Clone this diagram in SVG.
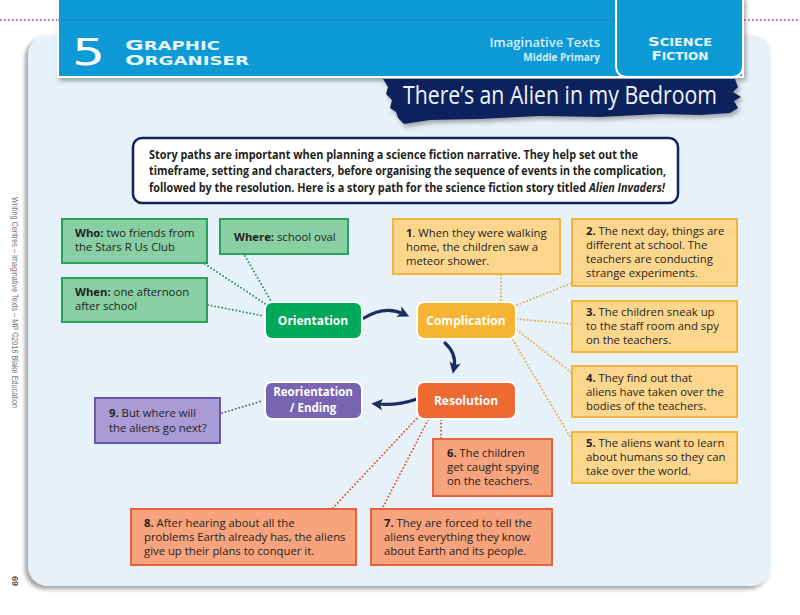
<svg xmlns="http://www.w3.org/2000/svg" width="800" height="615" viewBox="0 0 800 615">
<defs>
<filter id="sh" x="-10%" y="-10%" width="120%" height="120%">
<feDropShadow dx="-3" dy="3" stdDeviation="2" flood-color="#7a7a7a" flood-opacity="0.7"/>
</filter>
<filter id="sh2" x="-10%" y="-20%" width="120%" height="150%">
<feDropShadow dx="2" dy="3" stdDeviation="2" flood-color="#555" flood-opacity="0.5"/>
</filter>
<marker id="ah" viewBox="0 0 10 10" refX="5" refY="5" markerWidth="3.6" markerHeight="3.6" orient="auto" markerUnits="strokeWidth">
<path d="M0,0 L10,5 L0,10 L2.5,5 Z" fill="#1c2d63"/>
</marker>
<style>
.t{font-family:"Open Sans","Noto Sans","DejaVu Sans",sans-serif;font-size:11.3px;fill:#231f20}
.b{font-weight:700}
.intro{font-family:"Open Sans","Noto Sans",sans-serif;font-size:11.5px;font-weight:700;fill:#231f20}
.nd{font-family:"Open Sans","Noto Sans",sans-serif;font-size:12px;font-weight:700;fill:#fff;text-anchor:middle}
.nd2{font-family:"Open Sans","Noto Sans",sans-serif;font-size:11.5px;font-weight:700;fill:#fff;text-anchor:middle}
.gbox{fill:#88d0a3;stroke:#27a35b;stroke-width:2}
.ybox{fill:#fdd68e;stroke:#f2b43c;stroke-width:2}
.obox{fill:#f7a37d;stroke:#e6623a;stroke-width:2}
.pbox{fill:#a99cd6;stroke:#6a57a9;stroke-width:2}
.node{stroke:#fff;stroke-width:2}
.dot{fill:none;stroke-width:2;stroke-linecap:round;stroke-dasharray:0 3.6}
.gd{stroke:#2a9a55}
.yd{stroke:#e3ad45}
.od{stroke:#d45a35}
.pd{stroke:#6a57a9}
.arr{fill:none;stroke:#1c2d63;stroke-width:3.2;stroke-linecap:round;marker-end:url(#ah)}
.hd{font-family:"DejaVu Sans",sans-serif;font-weight:700;fill:#e8f6fd}
</style>
</defs>
<rect width="800" height="615" fill="#ffffff"/>
<!-- main panel -->
<rect x="28" y="35" width="743" height="551" rx="20" fill="#e7f1fa" filter="url(#sh)"/>
<!-- dotted line -->
<line x1="0" y1="20" x2="800" y2="20" stroke="#b2379b" stroke-width="1.6" stroke-dasharray="1.6 2.4"/>
<!-- header -->
<g id="header">
<rect x="58" y="-3" width="685" height="80" fill="#0c9ad6" stroke="#fff" stroke-width="2" filter="url(#sh2)"/>
<line x1="58" y1="20" x2="743" y2="20" stroke="#3f5ea8" stroke-width="1.4" stroke-dasharray="1.6 2.4" opacity="0.7"/>
<path d="M616,-3 H743 V65 Q743,77 731,77 H628 Q616,77 616,65 Z" fill="#0c9ad6" stroke="#fff" stroke-width="2"/>
<text x="72" y="65" font-family="DejaVu Sans, sans-serif" font-size="38" fill="#fff" textLength="33" lengthAdjust="spacingAndGlyphs">5</text>
<text x="125" y="49.5" class="hd" font-size="11.5" textLength="95" lengthAdjust="spacingAndGlyphs"><tspan font-size="14.5">G</tspan>RAPHIC</text>
<text x="125" y="65" class="hd" font-size="11.5" textLength="124" lengthAdjust="spacingAndGlyphs"><tspan font-size="14.5">O</tspan>RGANISER</text>
<text x="600" y="47" text-anchor="end" font-family="Open Sans, Noto Sans, sans-serif" font-size="13" font-weight="600" fill="#d9eef9">Imaginative Texts</text>
<text x="600" y="61" text-anchor="end" font-family="Open Sans, Noto Sans, sans-serif" font-size="10" font-weight="700" fill="#d9eef9">Middle Primary</text>
<text x="680" y="46" text-anchor="middle" class="hd" font-size="10" textLength="64" lengthAdjust="spacingAndGlyphs"><tspan font-size="12.5">S</tspan>CIENCE</text>
<text x="680" y="60" text-anchor="middle" class="hd" font-size="10" textLength="57" lengthAdjust="spacingAndGlyphs"><tspan font-size="12.5">F</tspan>ICTION</text>
</g>
<!-- banner -->
<g id="banner">
<path d="M383,79 L735,79 L738,87 L733,92 L741,97 L734,101 L738,108 L730,113 L700,115 L660,114 L600,117 L540,116 L480,119 L430,120 L404,124 L398,118 L396,112 L390,108 L392,100 L386,94 L388,87 Z" fill="#10205c" filter="url(#sh2)"/>
<text x="403" y="104" font-family="Open Sans, Noto Sans, sans-serif" font-size="25" fill="#eef4ff" textLength="314" lengthAdjust="spacingAndGlyphs">There’s an Alien in my Bedroom</text>
</g>
<!-- side text -->
<text transform="translate(12,197) rotate(90)" font-family="Liberation Sans, Arial, sans-serif" font-size="8.5" fill="#777" textLength="211" lengthAdjust="spacingAndGlyphs">Writing Centres – Imaginative Texts – MP ©2016 Blake Education</text>
<text transform="translate(12,576) rotate(90)" font-family="Liberation Sans, Arial, sans-serif" font-size="9" font-weight="700" fill="#555">69</text>
<!-- intro -->
<g id="intro">
<rect x="133" y="138" width="545" height="65" rx="9" fill="#fff" stroke="#13235e" stroke-width="2.5"/>
<text class="intro" x="149" y="158.5" textLength="489" lengthAdjust="spacingAndGlyphs">Story paths are important when planning a science fiction narrative. They help set out the</text>
<text class="intro" x="149" y="174.5" textLength="517" lengthAdjust="spacingAndGlyphs">timeframe, setting and characters, before organising the sequence of events in the complication,</text>
<text class="intro" transform="translate(149,191.5) scale(0.945,1)">followed by the resolution. Here is a story path for the science fiction story titled <tspan font-style="italic">Alien Invaders!</tspan></text>
</g>
<!-- connectors -->
<g id="connectors">
<path class="dot gd" d="M205,264 L267,305"/>
<path class="dot gd" d="M245,256 L271,301"/>
<path class="dot gd" d="M208,305 L264,316"/>
<path class="dot pd" d="M222,413 L262,401"/>
<path class="dot yd" d="M501,275 L501,301"/>
<path class="dot yd" d="M517,305 L572,283"/>
<path class="dot yd" d="M517,319 L572,324"/>
<path class="dot yd" d="M517,330 L572,373"/>
<path class="dot yd" d="M513,340 L572,440"/>
<path class="dot od" d="M441,420 L441,439"/>
<path class="dot od" d="M428,420 L382,509"/>
<path class="dot od" d="M419,416 L332,509"/>
<path class="arr" d="M364,318 Q385,305 404,314"/>
<path class="arr" d="M445,343 Q457,354 454,368"/>
<path class="arr" d="M417,399 Q397,406 377,404"/>
</g>
<!-- green boxes -->
<g id="who"><rect class="gbox" x="62" y="219" width="145" height="44"/>
<text class="t" x="75" y="237"><tspan class="b">Who:</tspan> two friends from</text>
<text class="t" x="75" y="251">the Stars R Us Club</text></g>
<g id="where"><rect class="gbox" x="220" y="219" width="128" height="35"/>
<text class="t" x="234" y="241"><tspan class="b">Where:</tspan> school oval</text></g>
<g id="when"><rect class="gbox" x="62" y="278" width="145" height="44"/>
<text class="t" x="75" y="296"><tspan class="b">When:</tspan> one afternoon</text>
<text class="t" x="75" y="310">after school</text></g>
<!-- main nodes -->
<g id="orientation"><rect class="node" x="265" y="302" width="97" height="37" rx="7" fill="#00a85a"/>
<text class="nd" x="313" y="325">Orientation</text></g>
<g id="complication"><rect class="node" x="417" y="302" width="99" height="37" rx="7" fill="#f5b532"/>
<text class="nd" x="466" y="325">Complication</text></g>
<g id="resolution"><rect class="node" x="417" y="382" width="99" height="37" rx="7" fill="#ef6a33"/>
<text class="nd" x="466" y="405">Resolution</text></g>
<g id="reorientation"><rect class="node" x="265" y="382" width="97" height="37" rx="7" fill="#7765b1"/>
<text class="nd2" x="313" y="395.5">Reorientation</text>
<text class="nd2" x="313" y="412">/ Ending</text></g>
<!-- purple box -->
<g id="box9"><rect class="pbox" x="95" y="398" width="125" height="45"/>
<text class="t" x="109" y="417"><tspan class="b">9.</tspan> But where will</text>
<text class="t" x="109" y="432">the aliens go next?</text></g>
<!-- yellow boxes -->
<g id="box1"><rect class="ybox" x="393" y="219" width="167" height="55"/>
<text class="t" x="406" y="237"><tspan class="b">1</tspan>. When they were walking</text>
<text class="t" x="406" y="251">home, the children saw a</text>
<text class="t" x="406" y="265">meteor shower.</text></g>
<g id="box2"><rect class="ybox" x="572" y="219" width="165" height="67"/>
<text class="t" x="586" y="235"><tspan class="b">2.</tspan> The next day, things are</text>
<text class="t" x="586" y="249">different at school. The</text>
<text class="t" x="586" y="263">teachers are conducting</text>
<text class="t" x="586" y="277">strange experiments.</text></g>
<g id="box3"><rect class="ybox" x="572" y="301" width="165" height="51"/>
<text class="t" x="586" y="316"><tspan class="b">3.</tspan> The children sneak up</text>
<text class="t" x="586" y="330">to the staff room and spy</text>
<text class="t" x="586" y="344">on the teachers.</text></g>
<g id="box4"><rect class="ybox" x="572" y="366" width="165" height="51"/>
<text class="t" x="586" y="382"><tspan class="b">4.</tspan> They find out that</text>
<text class="t" x="586" y="396">aliens have taken over the</text>
<text class="t" x="586" y="410">bodies of the teachers.</text></g>
<g id="box5"><rect class="ybox" x="572" y="432" width="165" height="51"/>
<text class="t" x="586" y="447"><tspan class="b">5.</tspan> The aliens want to learn</text>
<text class="t" x="586" y="461">about humans so they can</text>
<text class="t" x="586" y="475">take over the world.</text></g>
<!-- orange boxes -->
<g id="box6"><rect class="obox" x="433" y="439" width="119" height="57"/>
<text class="t" x="447" y="457"><tspan class="b">6.</tspan> The children</text>
<text class="t" x="447" y="471">get caught spying</text>
<text class="t" x="447" y="485">on the teachers.</text></g>
<g id="box7"><rect class="obox" x="371" y="509" width="181" height="56"/>
<text class="t" x="384" y="527"><tspan class="b">7.</tspan> They are forced to tell the</text>
<text class="t" x="384" y="541">aliens everything they know</text>
<text class="t" x="384" y="555">about Earth and its people.</text></g>
<g id="box8"><rect class="obox" x="131" y="509" width="225" height="56"/>
<text class="t" x="144" y="527"><tspan class="b">8.</tspan> After hearing about all the</text>
<text class="t" x="144" y="541">problems Earth already has, the aliens</text>
<text class="t" x="144" y="555">give up their plans to conquer it.</text></g>
</svg>
